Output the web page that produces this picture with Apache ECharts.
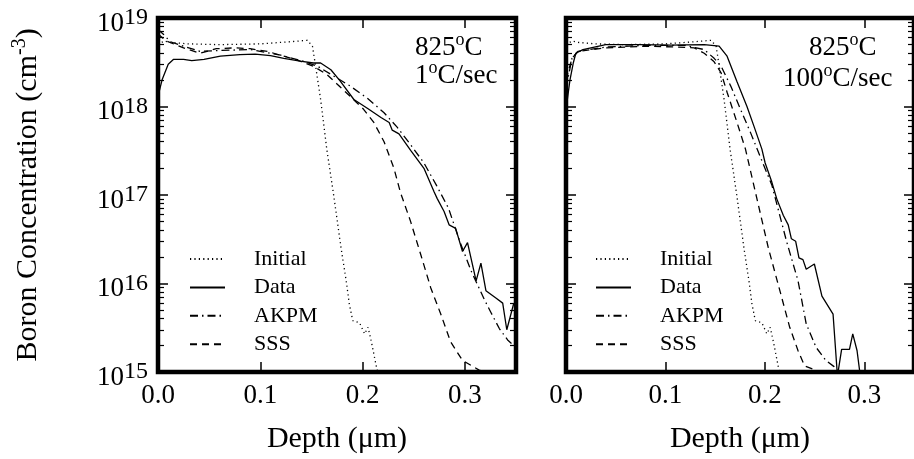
<!DOCTYPE html>
<html>
<head>
<meta charset="utf-8">
<script src="https://cdn.jsdelivr.net/npm/echarts@6/dist/echarts.min.js"></script>
<style>
  html, body { margin: 0; padding: 0; background: #fff; }
  #chart { width: 914px; height: 459px; }
</style>
</head>
<body>
<div id="chart"></div>
<script>
// depth (um), boron concentration (cm^-3)
const initialProfile = [
  [0.000, 5.0e18], [0.006, 5.5e18], [0.012, 5.3e18], [0.03, 5.1e18], [0.06, 5.0e18],
  [0.10, 5.1e18], [0.13, 5.4e18], [0.146, 5.6e18], [0.151, 4.8e18], [0.154, 2.9e18],
  [0.159, 1.2e18], [0.165, 3.3e17], [0.172, 9.5e16], [0.179, 2.5e16], [0.184, 1.07e16],
  [0.187, 5.9e15], [0.1904, 3.8e15], [0.197, 3.6e15], [0.202, 2.7e15], [0.2053, 3.2e15],
  [0.2086, 2.2e15], [0.2135, 1.15e15], [0.217, 8e14]
];

const slowData = [
  [0, 1.3e18], [0.004, 2.0e18], [0.010, 3.0e18], [0.015, 3.4e18], [0.025, 3.4e18],
  [0.033, 3.3e18], [0.045, 3.4e18], [0.061, 3.7e18], [0.080, 3.85e18], [0.095, 3.9e18],
  [0.110, 3.75e18], [0.123, 3.5e18], [0.139, 3.25e18], [0.152, 3.1e18], [0.159, 3.1e18],
  [0.169, 2.6e18], [0.178, 1.95e18], [0.1915, 1.2e18], [0.205, 9.5e17], [0.218, 7.5e17],
  [0.226, 6.6e17], [0.229, 5.4e17], [0.2356, 4.9e17], [0.247, 3.2e17], [0.260, 2.0e17],
  [0.270, 1.08e17], [0.273, 9.1e16], [0.2797, 6.5e16], [0.2846, 4.6e16], [0.291, 4.2e16],
  [0.2977, 2.3e16], [0.3026, 2.9e16], [0.311, 1.07e16], [0.3157, 1.7e16], [0.3206, 8.3e15],
  [0.330, 6.9e15], [0.337, 6.0e15], [0.341, 3.0e15], [0.3477, 5.9e15], [0.352, 6.3e15]
];
const slowAkpm = [
  [0, 7.4e18], [0.005, 6.6e18], [0.012, 5.4e18], [0.025, 4.8e18], [0.041, 4.2e18],
  [0.060, 4.3e18], [0.090, 4.4e18], [0.120, 3.8e18], [0.140, 3.3e18], [0.156, 2.85e18],
  [0.172, 2.2e18], [0.188, 1.7e18], [0.205, 1.23e18], [0.221, 8.5e17], [0.234, 5.8e17],
  [0.247, 3.7e17], [0.260, 2.3e17], [0.272, 1.3e17], [0.284, 7.1e16], [0.295, 3.0e16],
  [0.306, 1.4e16], [0.319, 6.6e15], [0.3255, 4.7e15], [0.3337, 3.1e15], [0.3418, 2.3e15],
  [0.352, 1.8e15]
];
const slowSss = [
  [0, 6.6e18], [0.008, 5.5e18], [0.025, 4.6e18], [0.041, 4.0e18], [0.057, 4.5e18],
  [0.075, 4.6e18], [0.090, 4.5e18], [0.107, 4.2e18], [0.123, 3.7e18], [0.139, 3.25e18],
  [0.152, 2.85e18], [0.165, 2.3e18], [0.175, 1.8e18], [0.188, 1.3e18], [0.201, 9.3e17],
  [0.211, 6.6e17], [0.221, 4.0e17], [0.2307, 2.0e17], [0.237, 1.07e17], [0.247, 5.0e16],
  [0.257, 2.1e16], [0.2667, 8.9e15], [0.2765, 4.5e15], [0.286, 2.2e15], [0.2977, 1.35e15],
  [0.314, 1.05e15], [0.33, 9e14]
];

const fastData = [
  [0, 9.3e17], [0.004, 2.0e18], [0.0073, 3.1e18], [0.0099, 4.0e18], [0.017, 4.4e18],
  [0.040, 5.0e18], [0.073, 5.0e18], [0.105, 4.95e18], [0.139, 5.0e18], [0.154, 4.8e18],
  [0.162, 3.7e18], [0.172, 1.9e18], [0.182, 1.0e18], [0.189, 6.0e17], [0.197, 3.3e17],
  [0.2003, 2.3e17], [0.207, 1.4e17], [0.2119, 9.1e16], [0.2185, 5.9e16], [0.2235, 4.6e16],
  [0.2267, 3.2e16], [0.231, 3.0e16], [0.2343, 1.95e16], [0.2383, 1.86e16], [0.2416, 1.45e16],
  [0.2498, 1.66e16], [0.2574, 7.2e15], [0.2686, 4.5e15], [0.273, 9e14], [0.2772, 1.8e15],
  [0.2851, 1.8e15], [0.2884, 2.7e15], [0.2927, 1.75e15], [0.296, 9e14]
];
const fastAkpm = [
  [0, 1.6e18], [0.006, 3.5e18], [0.012, 4.2e18], [0.04, 4.7e18], [0.08, 4.9e18],
  [0.12, 4.9e18], [0.139, 4.4e18], [0.149, 3.5e18], [0.156, 2.85e18], [0.1657, 1.7e18],
  [0.1755, 9.3e17], [0.1855, 5.1e17], [0.196, 2.6e17], [0.207, 1.3e17], [0.2218, 3.0e16],
  [0.2334, 1.07e16], [0.2416, 3.5e15], [0.2515, 1.9e15], [0.2614, 1.35e15], [0.2696, 1.15e15],
  [0.276, 9e14]
];
const fastSss = [
  [0, 2.0e18], [0.006, 3.5e18], [0.012, 4.2e18], [0.04, 4.6e18], [0.08, 4.8e18],
  [0.11, 4.7e18], [0.129, 4.6e18], [0.139, 4.0e18], [0.149, 3.2e18], [0.156, 2.4e18],
  [0.162, 1.45e18], [0.172, 6.6e17], [0.1805, 3.3e17], [0.192, 9.1e16], [0.2036, 2.5e16],
  [0.2151, 8.3e15], [0.225, 3.2e15], [0.2334, 1.74e15], [0.24, 1.17e15], [0.2515, 1.05e15],
  [0.262, 9e14]
];

const seriesNames = ['Initial', 'Data', 'AKPM', 'SSS'];
const depthTicks = [0, 0.1, 0.2, 0.3];
const decadeExps = [15, 16, 17, 18, 19];

const FONT = 'Liberation Serif';
const lineTypes = {
  Initial: [1.2, 3.2],
  Data: 'solid',
  AKPM: [8, 4, 1.5, 4],
  SSS: [7, 5]
};

// minor ticks at 2..9 of each decade, in log10 units
const minorTicks = [];
decadeExps.slice(0, -1).forEach(e => {
  for (let k = 2; k <= 9; k++) minorTicks.push(e + Math.log10(k));
});

const toLog = pts => pts.map(p => [p[0], Math.log10(p[1])]);

function xAxes(gridIndex) {
  const base = {
    gridIndex, type: 'value', min: 0, max: 0.35,
    axisLine: { show: false }, splitLine: { show: false }
  };
  return [
    Object.assign({}, base, {
      position: 'bottom',
      name: 'Depth (\u03bcm)', nameLocation: 'middle', nameGap: 52,
      nameTextStyle: { fontFamily: FONT, fontSize: 30, color: '#000' },
      axisTick: { inside: true, length: 10, lineStyle: { color: '#000', width: 1.5 }, customValues: depthTicks },
      axisLabel: {
        customValues: depthTicks, margin: 10, fontFamily: FONT, fontSize: 27, color: '#000',
        formatter: v => v.toFixed(1)
      }
    }),
    Object.assign({}, base, {
      position: 'top',
      axisTick: { inside: true, length: 10, lineStyle: { color: '#000', width: 1.5 }, customValues: depthTicks },
      axisLabel: { show: false }
    })
  ];
}

function yAxes(gridIndex, withLabels) {
  const base = {
    gridIndex, type: 'value', min: 15, max: 19, interval: 1,
    axisLine: { show: false }, splitLine: { show: false }
  };
  const list = [];
  ['left', 'right'].forEach(pos => {
    const major = Object.assign({}, base, {
      position: pos,
      axisTick: { inside: true, length: 10, lineStyle: { color: '#000', width: 1.5 } },
      axisLabel: { show: false }
    });
    if (pos === 'left' && withLabels) {
      major.axisLabel = {
        margin: 10,
        formatter: v => '{b|10}{s|' + Math.round(v) + '}',
        rich: {
          b: { fontFamily: FONT, fontSize: 27, color: '#000', lineHeight: 38, verticalAlign: 'bottom' },
          s: { fontFamily: FONT, fontSize: 24, color: '#000', lineHeight: 38, verticalAlign: 'middle' }
        }
      };
      major.name = 'Boron Concentration (cm{s|-3})';
      major.nameLocation = 'middle';
      major.nameGap = 112;
      major.nameRotate = 90;
      major.nameTextStyle = {
        fontFamily: FONT, fontSize: 30, color: '#000',
        rich: {
          s: { fontFamily: FONT, fontSize: 20, color: '#000', verticalAlign: 'top', lineHeight: 36 }
        }
      };
    }
    list.push(major);
    list.push(Object.assign({}, base, {
      position: pos,
      axisTick: { inside: true, length: 6, lineStyle: { color: '#000', width: 1.2 }, customValues: minorTicks },
      axisLabel: { show: false }
    }));
  });
  return list;
}

function panelSeries(gridIndex, curves) {
  return seriesNames.map((name, i) => ({
    name,
    type: 'line',
    xAxisIndex: gridIndex * 2,
    yAxisIndex: gridIndex * 4,
    data: toLog(curves[i]),
    showSymbol: false,
    symbol: 'none',
    clip: true,
    silent: true,
    lineStyle: { color: '#000', width: 1.3, type: lineTypes[name] },
    itemStyle: { color: '#000' }
  }));
}

function legendAt(left) {
  return {
    left, top: 248, orient: 'vertical', padding: 0,
    data: seriesNames, selectedMode: false,
    itemWidth: 35, itemHeight: 14, itemGap: 6.4,
    itemStyle: { color: 'transparent', borderColor: 'transparent', borderWidth: 0, opacity: 0 },
    textStyle: { fontFamily: FONT, fontSize: 22, color: '#000', padding: [0, 0, 0, 24] }
  };
}

const supRich = {
  n: { fontFamily: FONT, fontSize: 27, fill: '#000', lineHeight: 30, verticalAlign: 'bottom' },
  o: { fontFamily: FONT, fontSize: 18, fill: '#000', lineHeight: 30, verticalAlign: 'top' }
};

function label(x, y, text) {
  return {
    type: 'text', left: x, top: y,
    style: { text, rich: supRich, fill: '#000' }
  };
}

const chart = echarts.init(document.getElementById('chart'), null, { renderer: 'canvas' });

chart.setOption({
  animation: false,
  backgroundColor: '#fff',
  grid: [
    { left: 158, top: 18, width: 358, height: 357, show: true, borderColor: '#000', borderWidth: 4.5, backgroundColor: 'transparent' },
    { left: 566, top: 18, width: 354, height: 357, show: true, borderColor: '#000', borderWidth: 4.5, backgroundColor: 'transparent' }
  ],
  xAxis: xAxes(0).concat(xAxes(1)),
  yAxis: yAxes(0, true).concat(yAxes(1, false)),
  legend: [legendAt(189), legendAt(595)],
  graphic: [
    label(415, 31, '{n|825}{o|o}{n|C}'),
    label(415, 59, '{n|1}{o|o}{n|C/sec}'),
    label(809, 31, '{n|825}{o|o}{n|C}'),
    label(783, 62, '{n|100}{o|o}{n|C/sec}')
  ],
  series: panelSeries(0, [initialProfile, slowData, slowAkpm, slowSss])
    .concat(panelSeries(1, [initialProfile, fastData, fastAkpm, fastSss]))
});
</script>
</body>
</html>
